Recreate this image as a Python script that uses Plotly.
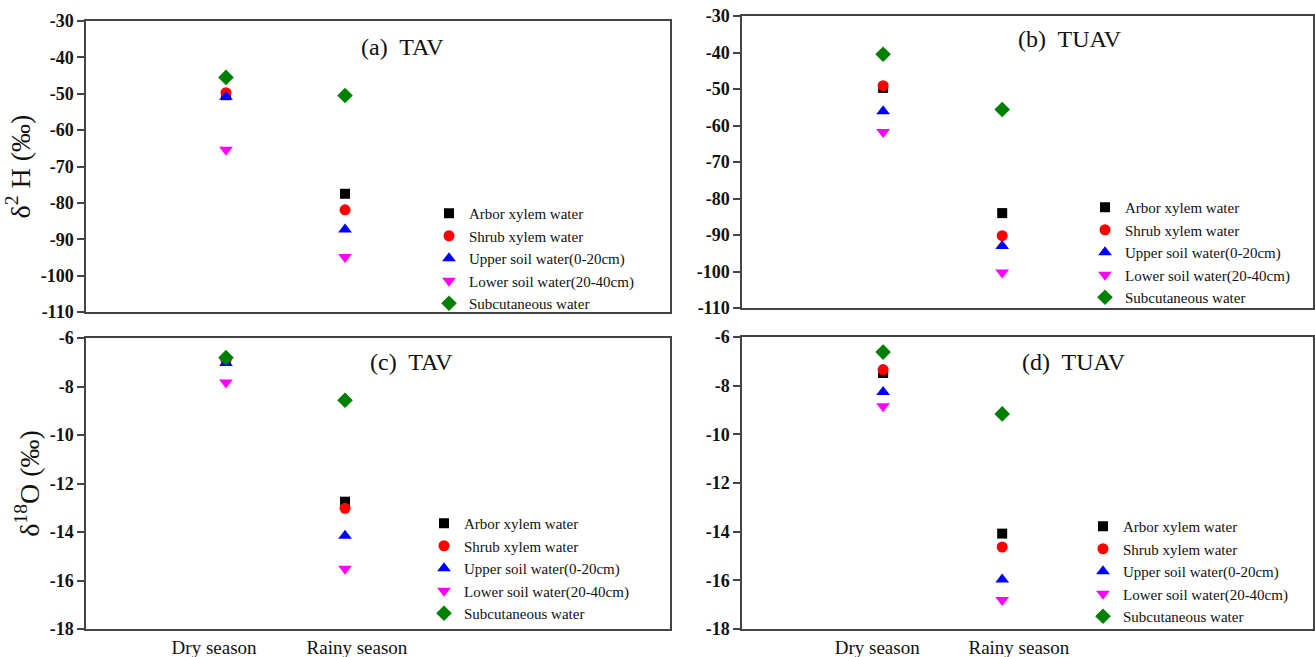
import plotly.graph_objects as go

seasons = ["Dry season", "Rainy season"]
season_x = [1, 2]
series_names = ["Arbor xylem water", "Shrub xylem water", "Upper soil water(0-20cm)",
                "Lower soil water(20-40cm)", "Subcutaneous water"]

# delta 2H, TAV (a)
h2_tav_arbor = [-50.4, -77.5]
h2_tav_shrub = [-49.7, -81.9]
h2_tav_upper = [-50.8, -87.3]
h2_tav_lower = [-65.4, -94.9]
h2_tav_sub = [-45.5, -50.5]
# delta 2H, TUAV (b)
h2_tuav_arbor = [-49.7, -84.0]
h2_tuav_shrub = [-49.1, -90.2]
h2_tuav_upper = [-56.1, -93.0]
h2_tuav_lower = [-61.8, -100.3]
h2_tuav_sub = [-40.5, -55.6]
# delta 18O, TAV (c)
o18_tav_arbor = [-6.95, -12.75]
o18_tav_shrub = [-6.92, -13.02]
o18_tav_upper = [-7.03, -14.15]
o18_tav_lower = [-7.84, -15.52]
o18_tav_sub = [-6.81, -8.57]
# delta 18O, TUAV (d)
o18_tuav_arbor = [-7.48, -14.08]
o18_tuav_shrub = [-7.34, -14.63]
o18_tuav_upper = [-8.26, -15.97]
o18_tuav_lower = [-8.85, -16.81]
o18_tuav_sub = [-6.62, -9.16]

h2_ticks = [-110, -100, -90, -80, -70, -60, -50, -40, -30]
o18_ticks = [-18, -16, -14, -12, -10, -8, -6]

colors = ["#000000", "#ff0000", "#0000ff", "#ff00ff", "#008000"]
symbols = ["square", "circle", "triangle-up", "triangle-down", "diamond"]
sizes = [10, 11, 12, 12, 12]

panels = [
    dict(data=[h2_tav_arbor, h2_tav_shrub, h2_tav_upper, h2_tav_lower, h2_tav_sub],
         xa="x", ya="y", leg="legend"),
    dict(data=[h2_tuav_arbor, h2_tuav_shrub, h2_tuav_upper, h2_tuav_lower, h2_tuav_sub],
         xa="x2", ya="y2", leg="legend2"),
    dict(data=[o18_tav_arbor, o18_tav_shrub, o18_tav_upper, o18_tav_lower, o18_tav_sub],
         xa="x3", ya="y3", leg="legend3"),
    dict(data=[o18_tuav_arbor, o18_tuav_shrub, o18_tuav_upper, o18_tuav_lower, o18_tuav_sub],
         xa="x4", ya="y4", leg="legend4"),
]

fig = go.Figure()
for p in panels:
    for i, vals in enumerate(p["data"]):
        fig.add_trace(go.Scatter(
            x=season_x, y=vals, mode="markers", name=series_names[i],
            marker=dict(color=colors[i], symbol=symbols[i], size=sizes[i]),
            xaxis=p["xa"], yaxis=p["ya"], legend=p["leg"], showlegend=True))

serif = "Liberation Serif"
W, H = 1315, 657

def px_x(v):
    return v / W

def px_y(v):
    return 1 - v / H

axis_common = dict(showline=True, linecolor="#444444", linewidth=1.5, mirror=True,
                   showgrid=False, zeroline=False, automargin=False)

yfont = dict(family=serif, size=18, color="#111111")

def yticks(vals):
    return dict(tickmode="array", tickvals=vals, ticktext=["<b>%d</b>" % v for v in vals])

xt_font = dict(family=serif, size=19, color="#111111")
ytitle_font = dict(family=serif, size=28, color="#111111")
tick_style = dict(ticks="outside", ticklen=7, tickwidth=1.5, tickcolor="#444444", tickfont=yfont)

layout = dict(
    width=W, height=H, margin=dict(l=0, r=0, t=0, b=0, autoexpand=False),
    paper_bgcolor="white", plot_bgcolor="white", font=dict(family=serif, color="#111111"),
    xaxis=dict(domain=[px_x(86), px_x(670)], range=[-0.176, 4.73], showticklabels=False,
               ticks="", anchor="y", **axis_common),
    xaxis2=dict(domain=[px_x(742), px_x(1313)], range=[-0.185, 4.61], showticklabels=False,
                ticks="", anchor="y2", **axis_common),
    xaxis3=dict(domain=[px_x(86), px_x(670)], range=[-0.176, 4.73], ticks="", anchor="y3",
                tickvals=[0.9, 2.1], ticktext=seasons,
                tickfont=xt_font, **axis_common),
    xaxis4=dict(domain=[px_x(742), px_x(1313)], range=[-0.185, 4.61], ticks="", anchor="y4",
                tickvals=[0.95, 2.14], ticktext=seasons,
                tickfont=xt_font, **axis_common),
    yaxis=dict(domain=[px_y(312), px_y(21)], range=[-110, -30], anchor="x",
               title=dict(text="δ<sup>2</sup> H (‰)", font=ytitle_font, standoff=2),
               **yticks(h2_ticks), **tick_style, **axis_common),
    yaxis2=dict(domain=[px_y(308), px_y(16)], range=[-110, -30], anchor="x2",
                **yticks(h2_ticks), **tick_style, **axis_common),
    yaxis3=dict(domain=[px_y(629), px_y(338)], range=[-18, -6], anchor="x3",
                title=dict(text="δ<sup>18</sup>O (‰)", font=ytitle_font, standoff=2),
                **yticks(o18_ticks), **tick_style, **axis_common),
    yaxis4=dict(domain=[px_y(629), px_y(337)], range=[-18, -6], anchor="x4",
                **yticks(o18_ticks), **tick_style, **axis_common),
)

legend_pos = {"legend": (429, 197), "legend2": (1085, 191),
              "legend3": (424, 507), "legend4": (1083, 510)}
for key, (lx, ly) in legend_pos.items():
    layout[key] = dict(x=px_x(lx), y=px_y(ly), xanchor="left", yanchor="top",
                       bgcolor="rgba(0,0,0,0)", font=dict(family=serif, size=15, color="#111111"),
                       tracegroupgap=0, itemsizing="trace")

fig.update_layout(**layout)

titles = [("(a)  TAV", 403, 47), ("(b)  TUAV", 1070, 39), ("(c)  TAV", 411, 362), ("(d)  TUAV", 1074, 362)]
for t, tx, ty in titles:
    fig.add_annotation(text=t, xref="paper", yref="paper", x=px_x(tx), y=px_y(ty),
                       xanchor="center", yanchor="middle", showarrow=False,
                       font=dict(family=serif, size=24, color="#111111"))

fig.write_html("out.html")
